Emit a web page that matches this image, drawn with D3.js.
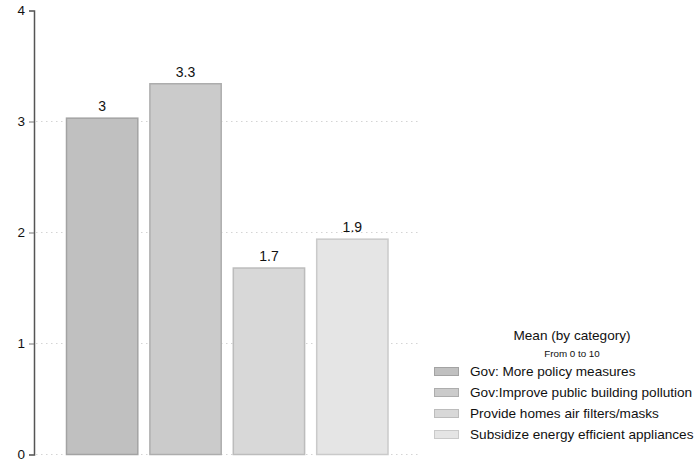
<!DOCTYPE html>
<html><head><meta charset="utf-8">
<script src="https://cdn.jsdelivr.net/npm/d3@7"></script>
<style>body{margin:0;background:#fff}svg{display:block;font-family:"Liberation Sans",Arial,sans-serif}</style>
</head><body><svg id="c" width="695" height="466"></svg>
<script>
const categories = ["Gov: More policy measures","Gov:Improve public building pollution","Provide homes air filters/masks","Subsidize energy efficient appliances"];
const values = [3.03, 3.34, 1.68, 1.94];
const valueLabels = ["3","3.3","1.7","1.9"];
const fills = ["#c0c0c0","#cbcbcb","#d8d8d8","#e5e5e5"];
const strokes = ["#a3a3a3","#adadad","#bcbcbc","#cacaca"];
const yTicks = [0,1,2,3,4];
const legendTitle = "Mean (by category)";
const legendSubtitle = "From 0 to 10";

const svg = d3.select("#c");
const y = d3.scaleLinear().domain([0,4]).range([454.5,10.5]);
const x = d3.scaleBand().domain(categories).range([66,388.5]).paddingInner(0.133).paddingOuter(0);

// grid
svg.append("g").selectAll("line").data(yTicks.filter(d=>d<4)).join("line")
  .attr("x1",36).attr("x2",421).attr("y1",d=>y(d)).attr("y2",d=>y(d))
  .attr("stroke","#d4d4d4").attr("stroke-width",1).attr("stroke-dasharray","1.5,3.5");

// bars
svg.append("g").selectAll("rect").data(values).join("rect")
  .attr("x",(d,i)=>x(categories[i])+0.5).attr("width",x.bandwidth()-1)
  .attr("y",d=>y(d)).attr("height",d=>y(0)-y(d))
  .attr("fill",(d,i)=>fills[i]).attr("stroke",(d,i)=>strokes[i]).attr("stroke-width",1.5);

// value labels
svg.append("g").selectAll("text").data(values).join("text")
  .attr("x",(d,i)=>x(categories[i])+x.bandwidth()/2).attr("y",d=>y(d)-7)
  .attr("text-anchor","middle").attr("font-size",14).attr("fill","#111")
  .text((d,i)=>valueLabels[i]);

// axis
const ax = svg.append("g").attr("transform","translate(34,0)").call(d3.axisLeft(y).tickValues(yTicks).tickFormat(d3.format("d")).tickSize(5).tickPadding(4));
ax.select(".domain").attr("stroke","#555").attr("stroke-width",1.5);
ax.selectAll(".tick line").attr("stroke","#777");
ax.selectAll(".tick text").attr("font-size",13.5).attr("fill","#111").attr("font-family","Liberation Sans, Arial, sans-serif");

// legend
const lg = svg.append("g");
lg.append("text").attr("x",572).attr("y",340).attr("text-anchor","middle").attr("font-size",13.6).attr("fill","#111").text(legendTitle);
lg.append("text").attr("x",572).attr("y",356.5).attr("text-anchor","middle").attr("font-size",9.8).attr("fill","#111").text(legendSubtitle);
const rows = lg.selectAll("g.row").data(categories).join("g").attr("class","row")
  .attr("transform",(d,i)=>`translate(434,${371.5+i*21})`);
rows.append("rect").attr("x",0.5).attr("y",-4).attr("width",24).attr("height",8)
  .attr("fill",(d,i)=>fills[i]).attr("stroke",(d,i)=>strokes[i]).attr("stroke-width",1);
rows.append("text").attr("x",36).attr("y",0).attr("dy","0.35em").attr("font-size",13.6).attr("fill","#111").text(d=>d);
</script></body></html>
